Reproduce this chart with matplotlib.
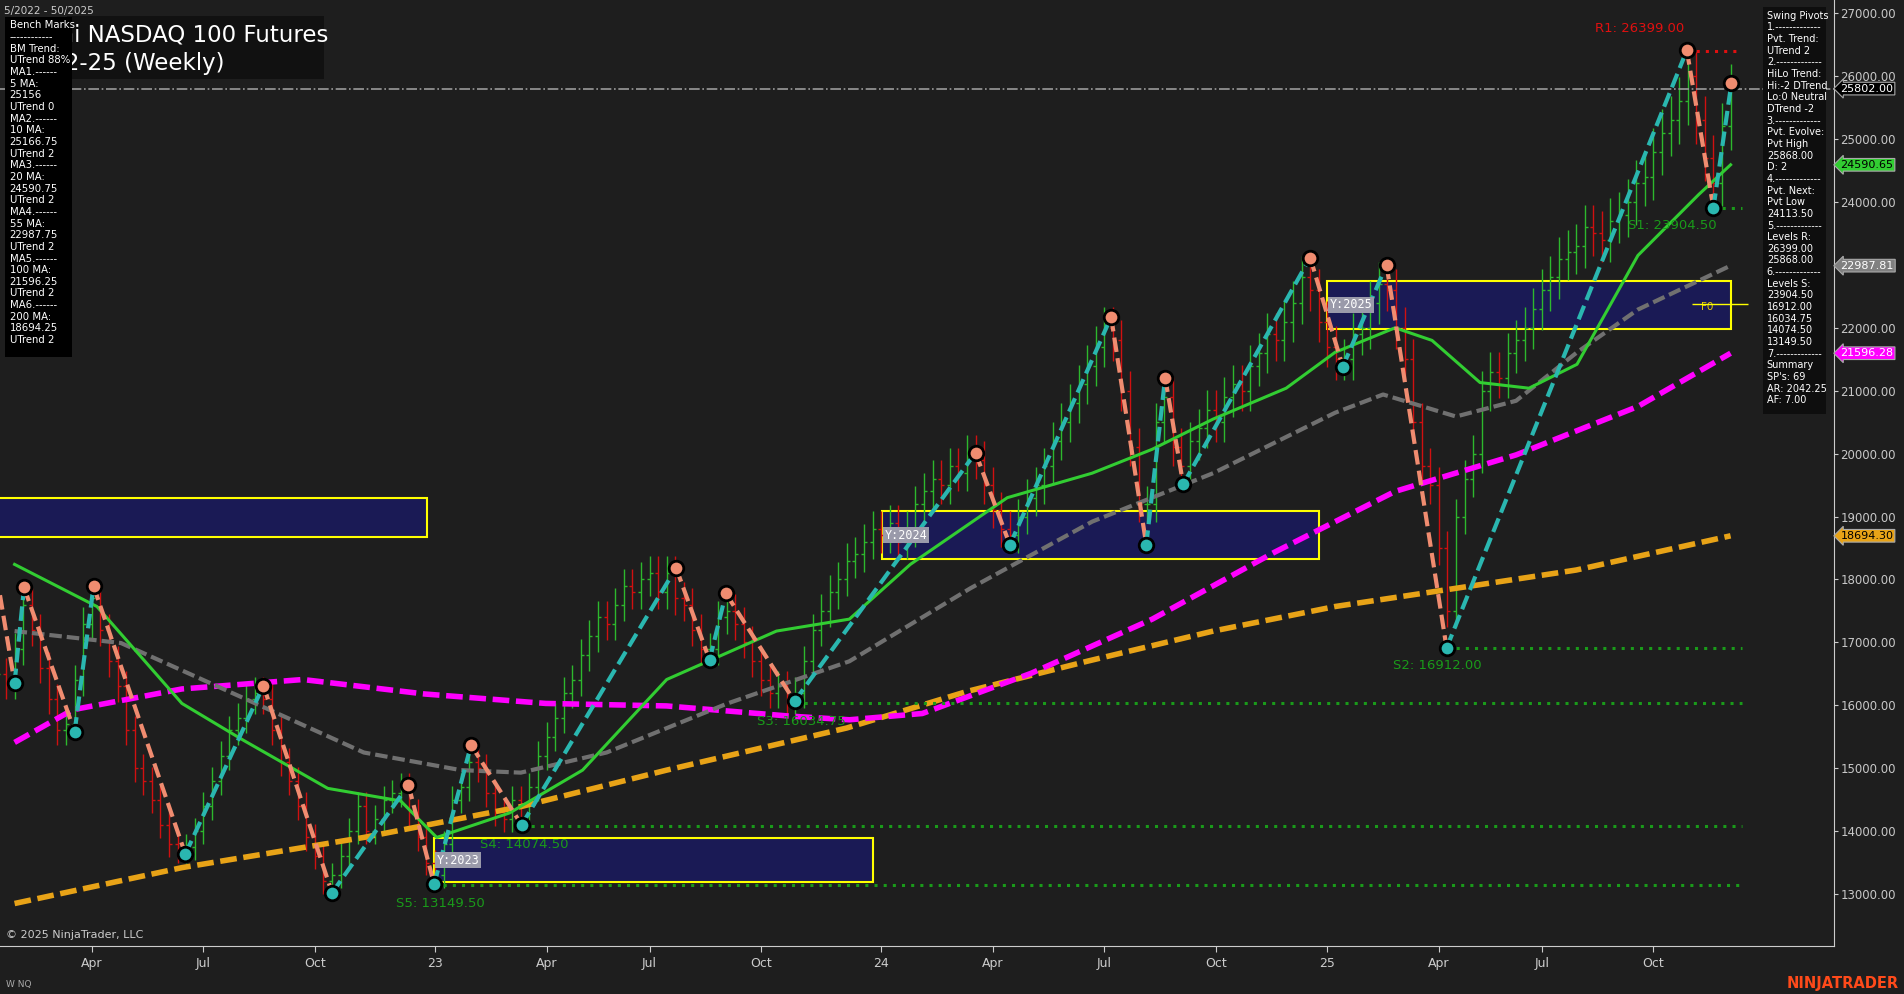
import numpy as np
import matplotlib
matplotlib.use("Agg")
import matplotlib.pyplot as plt
from matplotlib.patches import Rectangle

# ---------------- data ----------------
closes = [16500,16350,16900,17600,17200,16600,16100,15600,15700,16400,17300,17700,
          17200,16700,16300,15600,15000,14800,14500,14100,13800,13700,13750,
          14000,14400,14800,15200,15600,15800,16100,16200,16100,
          15600,15100,14800,14400,13900,13600,13200,13300,
          13600,14000,14400,14000,14200,14500,14600,14700,14300,
          13900,13500,13300,
          13800,14500,14700,15100,
          15000,14600,14300,14200,14500,14400,
          14700,15200,15500,15800,16200,16400,16800,17100,17400,17300,17600,17900,17800,18000,18100,17800,18100,17700,
          17600,17200,16900,16900,
          17400,17500,
          17300,17000,16700,16400,16200,16300,16100,16200,
          16700,17200,17500,17800,18000,18300,18400,18600,18800,18700,18900,18600,18800,19200,19400,19600,19500,19800,19700,20000,19900,
          19500,19100,18800,18700,
          19000,19300,19500,19800,20200,20500,20800,21100,21400,21700,22000,21800,
          21000,20100,19200,19200,
          20500,20900,
          20100,19800,
          20200,20400,20700,20500,20900,21100,21000,21400,21600,21900,21800,22100,22400,22800,22600,
          22100,21700,21500,21500,
          21900,22000,22400,22700,22600,
          22000,21500,20500,19800,19500,18500,17500,
          19000,19600,20000,21000,21300,21200,21600,21800,22000,22300,22600,22800,23100,23200,23300,23600,23500,23400,23700,23800,24000,24300,24400,24800,25100,25300,25600,26000,
          25300,24700,24300,
          25200,25800]

# swing pivots (week index, price, type)
piv_weeks  = [1.3, 3.0, 4.1, 10.0, 12.2, 22.9, 32.0, 40.0, 48.9, 51.9, 56.2, 62.1, 80.1, 84.0, 85.9, 93.9,
              115.0, 119.0, 130.8, 134.9, 137.1, 139.2, 154.0, 157.8, 162.9, 169.9, 197.9, 201.0, 203.1]
piv_prices = [17750, 16353, 17875, 15582, 17894, 13636, 16314, 13019, 14734, 13154, 15370, 14099, 18184, 16719, 17779, 16064,
              20014, 18550, 22172, 18550, 21209, 19513, 23117, 21382, 23001, 16912, 26412, 23907, 25892]
piv_types  = ['N', 'L', 'H', 'L', 'H', 'L', 'H', 'L', 'H', 'L', 'H', 'L', 'H', 'L', 'H', 'L',
              'H', 'L', 'H', 'L', 'H', 'L', 'H', 'L', 'H', 'L', 'H', 'L', 'H']

ma_weeks_200 = [3, 22.5, 43.7, 62, 79, 100, 114, 128, 142.7, 156.9, 171, 185, 203]
ma_200 = [12850, 13420, 13900, 14390, 14970, 15640, 16220, 16700, 17180, 17570, 17860, 18150, 18694]
ma_weeks_100 = [3, 9.8, 22.5, 36.6, 50.8, 64.9, 79, 93.2, 100.3, 108.8, 121.5, 135.6, 149.8, 163.9, 178, 192.2, 203]
ma_100 = [15410, 15930, 16260, 16410, 16180, 16030, 15990, 15830, 15770, 15870, 16510, 17370, 18430, 19400, 19980, 20750, 21596]
ma_weeks_55 = [3, 15.4, 29.6, 43.7, 55, 62, 72, 86.1, 100.3, 114.4, 128.6, 142.7, 156.9, 162.5, 171, 178, 185.1, 192.2, 203]
ma_55 = [17180, 16990, 16120, 15250, 14970, 14930, 15250, 16030, 16700, 17860, 18920, 19690, 20650, 20940, 20590, 20840, 21610, 22290, 22988]
ma_weeks_20 = [3, 12.6, 22.5, 29.6, 39.5, 48, 52.2, 60.7, 69.2, 79, 91.8, 100.3, 107.4, 118.7, 128.6, 135.6, 142.7, 151.2, 156.9, 163.9, 168.2, 173.8, 179.5, 185.1, 192.2, 199.3, 203]
ma_20 = [18240, 17570, 16030, 15450, 14680, 14480, 13900, 14290, 14970, 16410, 17180, 17370, 18240, 19300, 19690, 20070, 20550, 21040, 21610, 22000, 21800, 21130, 21040, 21420, 23150, 24120, 24591]

# yearly boxes: (start week, end week, low, high, label)
box_start = [-10, 51.9, 104.1, 156.0]
box_end   = [51.1, 103.0, 155.0, 203.1]
box_low   = [18680, 13190, 18320, 21980]
box_high  = [19300, 13890, 19090, 22750]
box_label = ["", "Y:2023", "Y:2024", "Y:2025"]

lvl_start = [93.9, 62.1, 51.9, 169.9, 201.0]
lvl_price = [16034.75, 14074.50, 13149.50, 16912.00, 23904.50]
r1_start, r1_price = 197.9, 26399.00
last_price = 25802.00

tag_values = [25802.00, 24590.65, 22987.81, 21596.28, 18694.30]
tag_colors = ['#000000', '#32cd32', '#808080', '#ff00ff', '#e8a317']
tag_text   = ['white', 'black', 'white', 'white', 'black']

xtick_pos = [12, 25, 38, 52, 65, 77, 90, 104, 117, 130, 143, 156, 169, 181, 194]
xtick_lab = ['Apr', 'Jul', 'Oct', '23', 'Apr', 'Jul', 'Oct', '24', 'Apr', 'Jul', 'Oct', '25', 'Apr', 'Jul', 'Oct']

bench = ["Bench Marks", "------------", "BM Trend:", "UTrend 88%", "MA1.------", "5 MA:", "25156", "UTrend 0",
         "MA2.------", "10 MA:", "25166.75", "UTrend 2", "MA3.------", "20 MA:", "24590.75", "UTrend 2",
         "MA4.------", "55 MA:", "22987.75", "UTrend 2", "MA5.------", "100 MA:", "21596.25", "UTrend 2",
         "MA6.------", "200 MA:", "18694.25", "UTrend 2"]
swing = ["Swing Pivots", "1.-------------", "Pvt. Trend:", "UTrend 2", "2.-------------", "HiLo Trend:",
         "Hi:-2 DTrend", "Lo:0 Neutral", "DTrend -2", "3.-------------", "Pvt. Evolve:", "Pvt High", "25868.00",
         "D: 2", "4.-------------", "Pvt. Next:", "Pvt Low", "24113.50", "5.-------------", "Levels R:",
         "26399.00", "25868.00", "6.-------------", "Levels S:", "23904.50", "16912.00", "16034.75",
         "14074.50", "13149.50", "7.-------------", "Summary", "SP's: 69", "AR: 2042.25", "AF: 7.00"]

# ---------------- figure ----------------
BG = '#1e1e1e'
fig = plt.figure(figsize=(19.04, 9.94), dpi=100, facecolor=BG)
ax = fig.add_axes([0.0, 0.048, 0.963, 0.952], facecolor=BG)
XMIN, XMAX = 1.3, 215.0
ax.set_xlim(XMIN, XMAX)
ax.set_ylim(12170, 27210)

# bars
c = np.array(closes, dtype=float)
wk = np.arange(1, len(c) + 1)
o = np.concatenate([[c[0]], c[:-1]])
hi = np.maximum(o, c) * 1.015
lo = np.minimum(o, c) * 0.985
for i in range(len(c)):
    col = '#2db82d' if c[i] >= o[i] else '#d01010'
    ax.vlines(wk[i], lo[i], hi[i], color=col, lw=1.0, zorder=2)
    ax.hlines(o[i], wk[i] - 0.35, wk[i], color=col, lw=1.0, zorder=2)
    ax.hlines(c[i], wk[i], wk[i] + 0.35, color=col, lw=1.0, zorder=2)

# boxes
for s, e, l, h, lab in zip(box_start, box_end, box_low, box_high, box_label):
    ax.add_patch(Rectangle((s, l), e - s, h - l, facecolor='#1a1a55', edgecolor='#ffff00', lw=1.5, zorder=1))
    if lab:
        ax.text(s + 0.3, (l + h) / 2, lab, color='white', fontsize=8.5, va='center', ha='left', zorder=6,
                family='DejaVu Sans Mono',
                bbox=dict(boxstyle='square,pad=0.15', fc='#9a9aaa', ec='none'))
ax.text(199.6, 22330, "F0", color='#e8d000', fontsize=7.5, va='center', zorder=6)
ax.hlines(22380, 198.5, 205, color='#ffff00', lw=1, zorder=6)

# MAs
ax.plot(ma_weeks_200, ma_200, color='#e8a317', lw=4, ls=(0, (3, 1.2)), zorder=3)
ax.plot(ma_weeks_100, ma_100, color='#ff00ff', lw=4, ls=(0, (3, 1.2)), zorder=3)
ax.plot(ma_weeks_55, ma_55, color='#707070', lw=3, ls=(0, (3, 1.2)), zorder=3)
ax.plot(ma_weeks_20, ma_20, color='#32cd32', lw=2.2, zorder=3)

# levels
for s, p in zip(lvl_start, lvl_price):
    ax.hlines(p, s, 204.3, color='#1a9a1a', lw=2.2, ls=(0, (1, 2)), zorder=3)
ax.hlines(r1_price, r1_start, 204.3, color='#e01010', lw=2.2, ls=(0, (1, 2)), zorder=3)
ax.axhline(last_price, color='#9a9a9a', lw=1.2, ls='-.', zorder=2)

lbls = [(197.6, 26750, "R1: 26399.00", '#e01010'), (191.0, 23620, "S1: 23904.50", '#1a9a1a'),
        (163.6, 16630, "S2: 16912.00", '#1a9a1a'), (89.5, 15740, "S3: 16034.75", '#1a9a1a'),
        (57.3, 13790, "S4: 14074.50", '#1a9a1a'), (47.4, 12850, "S5: 13149.50", '#1a9a1a')]
for x, y, t, col in lbls:
    ax.text(x, y, t, color=col, fontsize=9.5, ha='left' if t[0] == 'S' else 'right', va='center', zorder=6)

# zigzag
for i in range(len(piv_weeks) - 1):
    up = piv_prices[i + 1] > piv_prices[i]
    ax.plot(piv_weeks[i:i + 2], piv_prices[i:i + 2], color='#2ab7b0' if up else '#f08c70',
            lw=3, ls=(0, (3.5, 1.5)), zorder=4)
for w, p, t in zip(piv_weeks, piv_prices, piv_types):
    if t == 'N':
        continue
    ax.scatter([w], [p], s=110, color='#f08c70' if t == 'H' else '#2ab7b0', edgecolor='black', lw=2, zorder=5)

# axes styling
for sp in ['top', 'left']:
    ax.spines[sp].set_visible(False)
ax.spines['right'].set_color('#cccccc')
ax.spines['bottom'].set_color('#cccccc')
ax.yaxis.tick_right()
ax.set_yticks(np.arange(13000, 27001, 1000))
ax.set_yticklabels([f"{v:.2f}" for v in np.arange(13000, 27001, 1000)])
ax.set_xticks(xtick_pos)
ax.set_xticklabels(xtick_lab)
ax.tick_params(colors='#cccccc', labelsize=9, length=4)
ax.tick_params(axis='y', labelcolor='#c8c8c8', labelsize=8.5, length=3, pad=2)

for v, fc, tc in zip(tag_values, tag_colors, tag_text):
    ax.annotate(f"{v:.2f}", xy=(1.0, v), xycoords=('axes fraction', 'data'), xytext=(5, 0),
                textcoords='offset points', color=tc, fontsize=8, va='center', ha='left', zorder=10,
                annotation_clip=False,
                bbox=dict(boxstyle='larrow,pad=0.12', fc=fc, ec='#aaaaaa', lw=0.8))

# title
fig.patches.append(Rectangle((0.035, 1 - 65 / 819), 0.135, 52 / 819, transform=fig.transFigure,
                             fc='#111111', ec='none', zorder=1))
fig.text(0.004, 1 - 29 / 819, "E-mini NASDAQ 100 Futures", color='white', fontsize=16.5, va='center', zorder=2)
fig.text(0.004, 1 - 52 / 819, "NQ 12-25 (Weekly)", color='white', fontsize=16.5, va='center', zorder=2)
fig.text(0.002, 1 - 9 / 819, "5/2022 - 50/2025", color='#cccccc', fontsize=7.5, va='center')

# bench box
fig.patches.append(Rectangle((4 / 1568, 1 - 294 / 819), 55 / 1568, 280 / 819, transform=fig.transFigure,
                             fc='black', ec='none', zorder=3))
for i, t in enumerate(bench):
    fig.text(8 / 1568, 1 - (21 + i * 9.6) / 819, t, color='white', fontsize=7.3, va='center', zorder=4)

# swing panel
fig.patches.append(Rectangle((1452 / 1568, 1 - 341 / 819), 52 / 1568, 335 / 819, transform=fig.transFigure,
                             fc='#0e0e0e', ec='none', zorder=3))
for i, t in enumerate(swing):
    fig.text(1455 / 1568, 1 - (13 + i * 9.6) / 819, t, color='white', fontsize=7, va='center', zorder=4)

fig.text(0.003, 1 - 770 / 819, "© 2025 NinjaTrader, LLC", color='#cccccc', fontsize=8, va='center')
fig.text(0.003, 1 - 811 / 819, "W NQ", color='#aaaaaa', fontsize=6.5, va='center')
fig.text(0.997, 1 - 810 / 819, "NINJATRADER", color='#ff4a1a', fontsize=10.5, weight='bold', ha='right', va='center')

fig.savefig("out.png", dpi=100, facecolor=BG)
